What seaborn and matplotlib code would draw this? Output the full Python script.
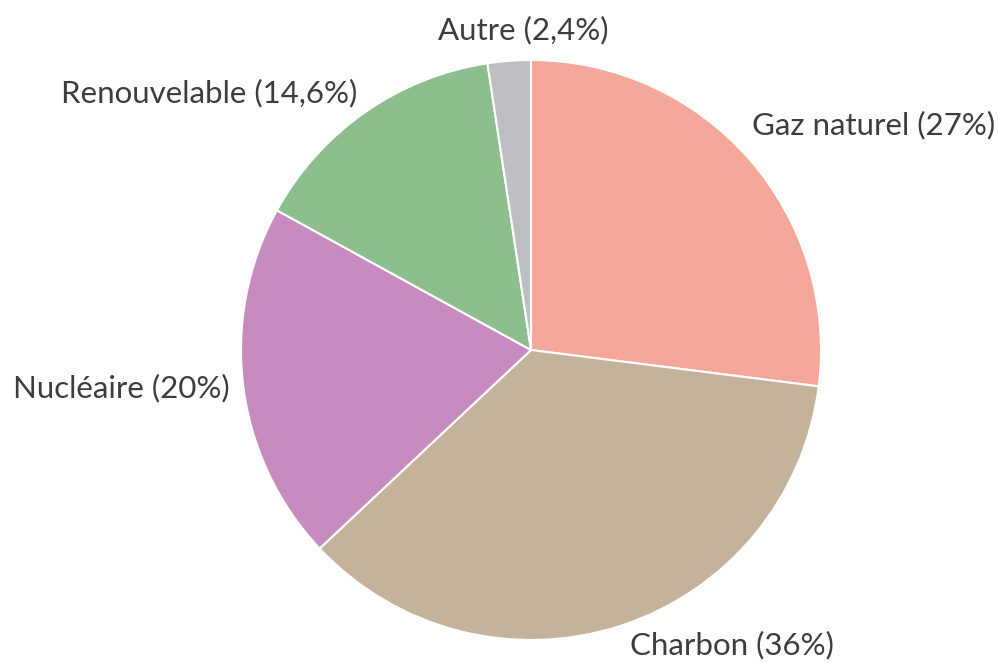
import matplotlib
matplotlib.use("Agg")
import matplotlib.pyplot as plt
import seaborn as sns

# Data
sources = ["Gaz naturel", "Charbon", "Nucléaire", "Renouvelable", "Autre"]
shares = [27, 36, 20, 14.6, 2.4]
share_labels = ["27%", "36%", "20%", "14,6%", "2,4%"]

sns.set_theme(style="white")
plt.rcParams["font.family"] = ["Lato", "DejaVu Sans"]

colors = ["#F5A89A", "#C4B39A", "#C78BBF", "#8DBE8D", "#BEBFC3"]

# label anchor (x, y, ha) in pie-radius units
label_pos = [
    (0.762, 0.776, "left"),
    (0.341, -1.017, "left"),
    (-1.038, -0.131, "right"),
    (-0.600, 0.886, "right"),
    (-0.028, 1.103, "center"),
]

fig = plt.figure(figsize=(9.98, 6.63), dpi=100)
ax = fig.add_axes([0, 0, 1, 1])

ax.pie(shares, colors=colors, startangle=90, counterclock=False,
       radius=1, wedgeprops={"edgecolor": "white", "linewidth": 1.5})

for name, lab, (x, y, ha) in zip(sources, share_labels, label_pos):
    ax.text(x, y, f"{name} ({lab})", ha=ha, va="center",
            fontsize=22.5, color="#3d3d3d")

ax.set_xlim(-531 / 290, (998 - 531) / 290)
ax.set_ylim(-313 / 290, 350 / 290)
ax.set_aspect("auto")
ax.axis("off")

fig.savefig("out.png", dpi=100, facecolor="white")
